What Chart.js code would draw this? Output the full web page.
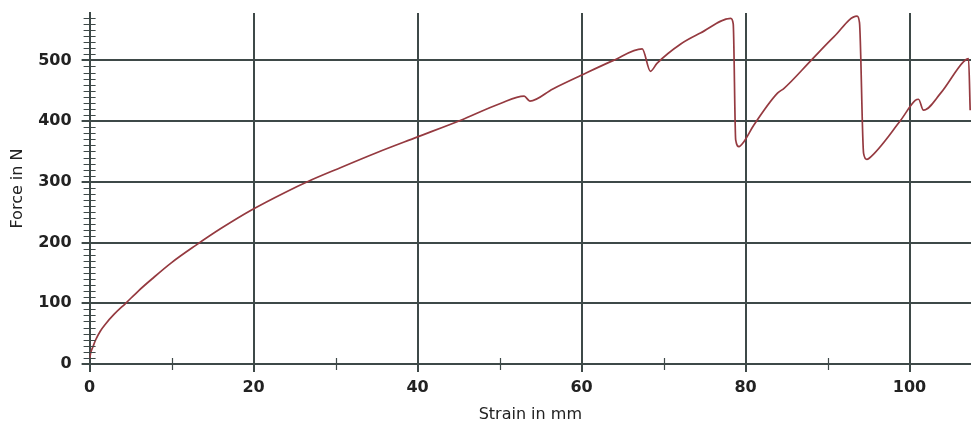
<!DOCTYPE html>
<html>
<head>
<meta charset="utf-8">
<script src="https://cdn.jsdelivr.net/npm/chart.js@4"></script>
<style>
	body { margin: 0; background: #fff; }
	#wrap { width: 971px; height: 424px; }
</style>
</head>
<body>
<div id="wrap"><canvas id="force-chart" width="971" height="424"></canvas></div>
<script>
// strain (mm) and force (N)
const strainMm = [
	0, 0.12, 0.4, 0.73, 1.3, 1.95, 3.0, 4.4, 6.0, 7.6, 10.0, 12.9, 16.0, 19.8, 23.9,
	26.7, 30.0, 35.0, 40.0, 45.2, 50.1, 53.0, 53.7, 56.5, 59.9, 63.9, 67.4, 68.4,
	69.2, 72.1, 74.5, 78.2, 78.5, 78.8, 79.2, 79.8, 81.0, 83.9, 84.7, 88.0, 90.8,
	93.6, 93.9, 94.4, 94.8, 95.0, 98.9, 100.7, 101.1, 101.7, 103.8, 106.6, 107.2, 107.4,
];
const forceN = [
	8, 17.6, 28, 39.5, 54, 66, 82, 100, 121, 140, 167, 195, 223, 254, 283,
	301, 320, 348, 374, 401, 429, 441, 433, 453, 475, 500, 519, 482,
	495, 527, 545, 569, 560, 369, 358, 366, 393, 446, 454, 500, 539,
	573, 562, 347, 337, 338, 401, 434, 436, 418, 446, 498, 503, 418,
];
const xTickValues = [0, 10, 20, 30, 40, 50, 60, 70, 80, 90, 100];
const yTickValues = [];
for (let v = 0; v <= 570; v += 10) yTickValues.push(v);

const gridColor = "#3e4948";
const tickFont = { family: "DejaVu Sans", size: 16, weight: "bold" };
const titleFont = { family: "DejaVu Sans", size: 16 };

// small crossing tick marks for the minor divisions
const minorTicks = {
	id: "minorTicks",
	afterDraw(chart) {
		const { ctx, scales } = chart;
		const xs = scales.x, ys = scales.y;
		const axisX = xs.getPixelForValue(0);
		const axisY = ys.getPixelForValue(0);
		ctx.save();
		ctx.strokeStyle = gridColor;
		ctx.lineWidth = 1.2;
		ctx.beginPath();
		yTickValues.forEach(v => {
			if (v % 100 === 0) return;
			const py = Math.round(ys.getPixelForValue(v)) + 0.5;
			ctx.moveTo(axisX - 6, py);
			ctx.lineTo(axisX + 6, py);
		});
		xTickValues.forEach(v => {
			if (v % 20 === 0) return;
			const px = Math.round(xs.getPixelForValue(v)) + 0.5;
			ctx.moveTo(px, axisY - 6);
			ctx.lineTo(px, axisY + 6);
		});
		ctx.stroke();
		ctx.restore();
	},
};

const ctx = document.getElementById("force-chart").getContext("2d");
new Chart(ctx, {
	type: "line",
	data: {
		datasets: [
			{
				data: strainMm.map((x, i) => ({ x: x, y: forceN[i] })),
				borderColor: "#953a40",
				borderWidth: 1.7,
				pointRadius: 0,
				cubicInterpolationMode: "monotone",
				fill: false,
			},
		],
	},
	options: {
		responsive: false,
		animation: false,
		layout: { padding: { left: 4, top: 13, right: 0, bottom: 0 } },
		plugins: { legend: { display: false }, tooltip: { enabled: false } },
		scales: {
			x: {
				type: "linear",
				min: 0,
				max: 107.5,
				afterBuildTicks: scale => {
					scale.ticks = xTickValues.map(v => ({ value: v }));
				},
				ticks: {
					autoSkip: false,
					maxRotation: 0,
					padding: 6,
					color: "#222",
					font: tickFont,
					callback: v => (v % 20 === 0 ? String(v) : null),
				},
				grid: {
					color: c => (c.tick && c.tick.value % 20 === 0 ? gridColor : "transparent"),
					tickColor: c => (c.tick && c.tick.value % 20 === 0 ? gridColor : "transparent"),
					lineWidth: 2,
					tickLength: 8,
				},
				border: { color: gridColor, width: 2 },
				title: {
					display: true,
					text: "Strain in mm",
					color: "#222",
					font: titleFont,
					padding: { top: 1.6, bottom: 0 },
				},
			},
			y: {
				min: 0,
				max: 578,
				afterBuildTicks: scale => {
					scale.ticks = yTickValues.map(v => ({ value: v }));
				},
				afterFit: scale => {
					scale.paddingTop = 0;
					scale.paddingBottom = 0;
				},
				ticks: {
					autoSkip: false,
					padding: 10,
					color: "#222",
					font: tickFont,
					callback: v => (v % 100 === 0 ? String(v) : null),
				},
				grid: {
					color: c => (c.tick && c.tick.value % 100 === 0 ? gridColor : "transparent"),
					tickColor: c => (c.tick && c.tick.value % 100 === 0 ? gridColor : "transparent"),
					lineWidth: 2,
					tickLength: 8,
				},
				border: { color: gridColor, width: 2 },
				title: {
					display: true,
					text: "Force in N",
					color: "#222",
					font: titleFont,
					padding: { top: 4, bottom: 1 },
				},
			},
		},
	},
	plugins: [minorTicks],
});
</script>
</body>
</html>
